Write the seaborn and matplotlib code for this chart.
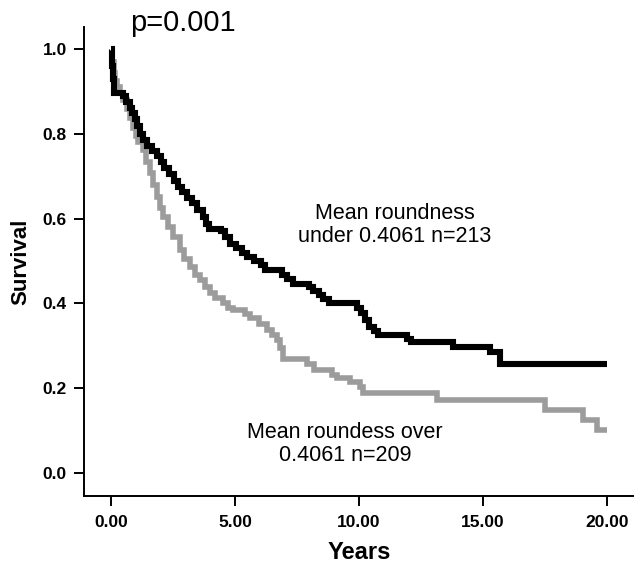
import matplotlib
matplotlib.use("Agg")
import matplotlib.pyplot as plt
import seaborn as sns
import pandas as pd

# Kaplan-Meier style step curves
under_years = [0.00, 0.02, 0.05, 0.08, 0.10, 0.50, 0.60, 0.75, 0.85, 0.95, 1.05, 1.15,
               1.30, 1.45, 1.65, 1.85, 2.00, 2.15, 2.35, 2.55, 2.70, 2.85, 3.05, 3.25,
               3.45, 3.70, 3.85, 3.95, 4.45, 4.60, 4.80, 5.05, 5.30, 5.50, 5.75, 6.05,
               6.20, 6.90, 7.10, 7.35, 8.00, 8.15, 8.40, 8.55, 8.80, 9.90, 10.10, 10.25,
               10.40, 10.60, 10.75, 11.95, 12.10, 13.80, 15.30, 15.70, 20.00]
under_surv = [1.000, 0.985, 0.960, 0.930, 0.897, 0.889, 0.875, 0.862, 0.850, 0.835, 0.820, 0.800,
              0.786, 0.772, 0.760, 0.748, 0.735, 0.720, 0.705, 0.690, 0.675, 0.662, 0.650, 0.636,
              0.621, 0.605, 0.588, 0.576, 0.570, 0.556, 0.540, 0.530, 0.520, 0.510, 0.500, 0.490,
              0.478, 0.467, 0.457, 0.446, 0.440, 0.430, 0.420, 0.410, 0.400, 0.390, 0.378, 0.362,
              0.345, 0.335, 0.326, 0.316, 0.309, 0.297, 0.285, 0.258, 0.258]

over_years = [0.00, 0.05, 0.10, 0.16, 0.25, 0.36, 0.50, 0.65, 0.78, 0.89, 1.00, 1.10,
              1.29, 1.40, 1.57, 1.70, 1.85, 1.98, 2.10, 2.30, 2.50, 2.78, 2.95, 3.19,
              3.40, 3.59, 3.80, 3.99, 4.20, 4.50, 4.70, 4.92, 5.40, 5.60, 5.95, 6.29,
              6.50, 6.69, 6.80, 6.94, 7.90, 8.20, 8.90, 9.10, 9.64, 10.04, 10.16, 13.15,
              17.50, 19.03, 19.60, 20.00]
over_surv = [1.000, 0.970, 0.945, 0.925, 0.910, 0.897, 0.880, 0.860, 0.838, 0.815, 0.795, 0.780,
             0.762, 0.735, 0.708, 0.680, 0.651, 0.625, 0.604, 0.580, 0.557, 0.526, 0.505, 0.486,
             0.468, 0.455, 0.440, 0.425, 0.412, 0.400, 0.390, 0.385, 0.375, 0.366, 0.352, 0.337,
             0.325, 0.314, 0.295, 0.268, 0.258, 0.243, 0.232, 0.224, 0.215, 0.203, 0.189, 0.172,
             0.149, 0.125, 0.101, 0.101]

x_ticks = [0, 5, 10, 15, 20]
x_tick_labels = ["0.00", "5.00", "10.00", "15.00", "20.00"]
y_ticks = [0.0, 0.2, 0.4, 0.6, 0.8, 1.0]
y_tick_labels = ["0.0", "0.2", "0.4", "0.6", "0.8", "1.0"]

label_under = "Mean roundness\nunder 0.4061 n=213"
label_over = "Mean roundess over\n0.4061 n=209"
p_text = "p=0.001"

sns.set_style("ticks")
plt.rcParams["font.family"] = ["Liberation Sans", "DejaVu Sans"]
plt.rcParams["text.color"] = "black"
plt.rcParams["axes.labelcolor"] = "black"
plt.rcParams["xtick.color"] = "black"
plt.rcParams["ytick.color"] = "black"

df_under = pd.DataFrame({"Years": under_years, "Survival": under_surv})
df_over = pd.DataFrame({"Years": over_years, "Survival": over_surv})

fig = plt.figure(figsize=(6.34, 5.65), dpi=100)
ax = fig.add_axes([84 / 634, (565 - 496) / 565, 1 - 84 / 634, (496 - 27) / 565])

sns.lineplot(data=df_over, x="Years", y="Survival", ax=ax, color="#9c9c9c",
             linewidth=4.0, drawstyle="steps-post", estimator=None, sort=False,
             solid_joinstyle="miter", solid_capstyle="butt")
sns.lineplot(data=df_under, x="Years", y="Survival", ax=ax, color="black",
             linewidth=4.4, drawstyle="steps-post", estimator=None, sort=False,
             solid_joinstyle="miter", solid_capstyle="butt")

ax.set_xlim(-1.09, 21.09)
ax.set_ylim(-0.0543, 1.0525)
ax.set_xticks(x_ticks)
ax.set_xticklabels(x_tick_labels, fontweight="bold", fontsize=12.5)
ax.set_yticks(y_ticks)
ax.set_yticklabels(y_tick_labels, fontweight="bold", fontsize=12.5)
ax.tick_params(axis="both", direction="out", length=7.5, width=1.4, color="black",
               labelcolor="black")
ax.tick_params(axis="x", pad=6)
ax.tick_params(axis="y", pad=5)

for side in ["top", "right"]:
    ax.spines[side].set_visible(False)
for side in ["left", "bottom"]:
    ax.spines[side].set_linewidth(1.4)
    ax.spines[side].set_color("black")

ax.set_xlabel("Years", fontweight="bold", fontsize=17, labelpad=8)
ax.set_ylabel("Survival", fontweight="bold", fontsize=16, labelpad=8)

ax.text(0.77, 1.062, p_text, fontsize=21, ha="left", va="center", clip_on=False)
ax.text(11.45, 0.585, label_under, fontsize=15.5, ha="center", va="center",
        multialignment="center", linespacing=1.1)
ax.text(9.44, 0.068, label_over, fontsize=15.5, ha="center", va="center",
        multialignment="center", linespacing=1.1)

fig.savefig("out.png", dpi=100)
